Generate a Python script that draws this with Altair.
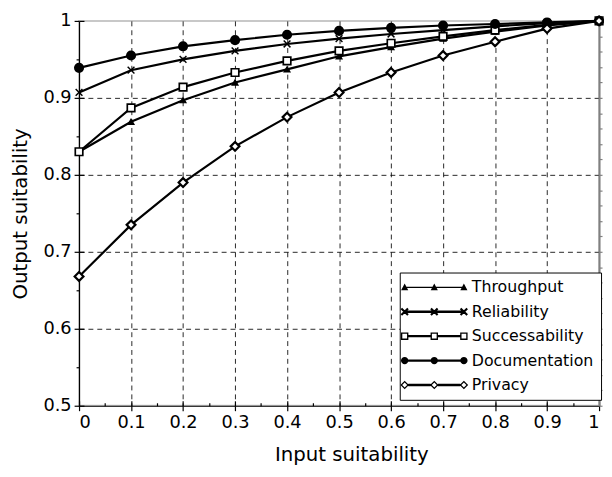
import altair as alt
import pandas as pd

# ---------------- data ----------------
series = ["Throughput", "Reliability", "Successability", "Documentation", "Privacy"]
x_vals = [0.0, 0.1, 0.2, 0.3, 0.4, 0.5, 0.6, 0.7, 0.8, 0.9, 1.0]
throughput = [0.830, 0.869, 0.897, 0.920, 0.937, 0.954, 0.966, 0.977, 0.986, 0.994, 1.0]
reliability = [0.907, 0.936, 0.950, 0.961, 0.970, 0.977, 0.983, 0.988, 0.993, 0.997, 1.0]
successability = [0.830, 0.887, 0.914, 0.933, 0.948, 0.961, 0.971, 0.980, 0.988, 0.995, 1.0]
documentation = [0.939, 0.955, 0.967, 0.975, 0.982, 0.987, 0.991, 0.994, 0.996, 0.998, 1.0]
privacy = [0.668, 0.735, 0.790, 0.837, 0.875, 0.907, 0.933, 0.955, 0.973, 0.990, 1.0]

x_ticks = [0.0, 0.1, 0.2, 0.3, 0.4, 0.5, 0.6, 0.7, 0.8, 0.9, 1.0]
y_ticks = [0.5, 0.6, 0.7, 0.8, 0.9, 1.0]
x_grid = [0.1, 0.2, 0.3, 0.4, 0.5, 0.6, 0.7, 0.8, 0.9]
y_grid = [0.6, 0.7, 0.8, 0.9]
x_minor = [0.05, 0.15, 0.25, 0.35, 0.45, 0.55, 0.65, 0.75, 0.85, 0.95]
y_minor = [0.55, 0.65, 0.75, 0.85, 0.95]
y_right = [round(0.5 + 0.02 * i, 2) for i in range(26)]

values = [throughput, reliability, successability, documentation, privacy]
rows = []
for s, vals in zip(series, values):
    for xv, yv in zip(x_vals, vals):
        rows.append({"series": s, "lg": s, "x": xv, "y": yv})
df = pd.DataFrame(rows)

# ---------------- legend symbol paths (line + 3 markers) ----------------
def f(v):
    return f"{v:.3f}"

CS = [-4, 0, 4]

def seg_rects(t, g):
    out = ""
    for a, b in zip(CS[:-1], CS[1:]):
        x1, x2 = a + g, b - g
        out += f"M{f(x1)},{f(-t)}H{f(x2)}V{f(t)}H{f(x1)}Z"
    return out

def tri(c):
    w, top, bot = 0.48, -0.52, 0.38
    return f"M{f(c-w)},{f(bot)}L{f(c)},{f(top)}L{f(c+w)},{f(bot)}Z"

def xmark(c):
    a, d = 0.45, 0.1
    r1 = f"M{f(c-a+d)},{f(-a-d)}L{f(c+a+d)},{f(a-d)}L{f(c+a-d)},{f(a+d)}L{f(c-a-d)},{f(-a+d)}Z"
    r2 = f"M{f(c-a-d)},{f(a-d)}L{f(c+a-d)},{f(-a-d)}L{f(c+a+d)},{f(-a+d)}L{f(c-a+d)},{f(a+d)}Z"
    return r1 + r2

def sq(c):
    h, hi = 0.5, 0.32
    o = f"M{f(c-h)},{f(-h)}H{f(c+h)}V{f(h)}H{f(c-h)}Z"
    i = f"M{f(c-hi)},{f(-hi)}V{f(hi)}H{f(c+hi)}V{f(-hi)}Z"
    return o + i

def circ(c):
    r = 0.5
    return f"M{f(c-r)},0A{r},{r} 0 1,1 {f(c+r)},0A{r},{r} 0 1,1 {f(c-r)},0Z"

def dia(c):
    h, hi = 0.58, 0.34
    o = f"M{f(c)},{f(-h)}L{f(c+h)},0L{f(c)},{f(h)}L{f(c-h)},0Z"
    i = f"M{f(c)},{f(-hi)}L{f(c-hi)},0L{f(c)},{f(hi)}L{f(c+hi)},0Z"
    return o + i

legend_paths = [
    seg_rects(0.08, 0) + "".join(tri(c) for c in CS),
    seg_rects(0.16, 0) + "".join(xmark(c) for c in CS),
    seg_rects(0.16, 0.45) + "".join(sq(c) for c in CS),
    seg_rects(0.16, 0) + "".join(circ(c) for c in CS),
    seg_rects(0.16, 0.5) + "".join(dia(c) for c in CS),
]

# ---------------- chart ----------------
FONT = "DejaVu Sans"
xscale = alt.Scale(domain=[0, 1], nice=False, zero=False)
yscale = alt.Scale(domain=[0.5, 1], nice=False, zero=False)

def blank_axis(orient, vals, **kw):
    base = dict(orient=orient, values=vals, labels=False, domain=False, ticks=False,
                grid=False, title=None)
    base.update(kw)
    return alt.Axis(**base)

base = alt.Chart(df)

grid_layer = base.mark_line(opacity=0).encode(
    x=alt.X("x:Q", scale=xscale, axis=blank_axis("bottom", x_grid, grid=True)),
    y=alt.Y("y:Q", scale=yscale, axis=blank_axis("left", y_grid, grid=True)),
    detail="series:N",
)

main_layer = base.mark_line(opacity=0).encode(
    x=alt.X("x:Q", scale=xscale, axis=alt.Axis(
        orient="bottom", values=x_ticks, format=".1~f", grid=False, title="Input suitability",
        tickSize=5, labelPadding=3, titlePadding=14, titleX=276, titleAlign="center")),
    y=alt.Y("y:Q", scale=yscale, axis=alt.Axis(
        orient="left", values=y_ticks, format=".1~f", grid=False, title="Output suitability",
        tickSize=5, labelPadding=3, titlePadding=13)),
    detail="series:N",
)

inner_layer = base.mark_line(opacity=0).encode(
    x=alt.X("x:Q", scale=xscale, axis=blank_axis("bottom", x_ticks, ticks=True, tickSize=5, offset=-5)),
    y=alt.Y("y:Q", scale=yscale, axis=blank_axis("left", y_ticks, ticks=True, tickSize=5, offset=-5)),
    detail="series:N",
)

minor_layer = base.mark_line(opacity=0).encode(
    x=alt.X("x:Q", scale=xscale, axis=blank_axis("bottom", x_minor, ticks=True, tickSize=3, offset=-3)),
    y=alt.Y("y:Q", scale=yscale, axis=blank_axis("left", y_minor, ticks=True, tickSize=3)),
    detail="series:N",
)

right_layer = base.mark_line(opacity=0).encode(
    x=alt.X("x:Q", scale=xscale, axis=None),
    y=alt.Y("y:Q", scale=yscale, axis=blank_axis("right", y_right, domain=True, domainColor="#808080",
                                                 domainWidth=2, ticks=True, tickSize=3,
                                                 tickColor="#808080")),
    detail="series:N",
)

lines = base.mark_line(color="black", strokeWidth=2.2).encode(
    x=alt.X("x:Q", scale=xscale, axis=None),
    y=alt.Y("y:Q", scale=yscale, axis=None),
    detail="series:N",
)

x_path = "M-1,-1L1,1M-1,1L1,-1"
points = base.mark_point(filled=True, stroke="black", opacity=1).encode(
    x=alt.X("x:Q", scale=xscale, axis=None),
    y=alt.Y("y:Q", scale=yscale, axis=None),
    shape=alt.Shape("series:N", scale=alt.Scale(domain=series,
                    range=["triangle-up", x_path, "square", "circle", "diamond"]), legend=None),
    fill=alt.Fill("series:N", scale=alt.Scale(domain=series,
                  range=["black", "black", "white", "black", "white"]), legend=None),
    size=alt.Size("series:N", scale=alt.Scale(domain=series, range=[36, 80, 42, 42, 46]), legend=None),
    strokeWidth=alt.StrokeWidth("series:N", scale=alt.Scale(domain=series,
                                range=[1.2, 2.2, 1.6, 1.2, 1.6]), legend=None),
)

legend_layer = base.transform_filter("false").mark_point(filled=True, color="black", opacity=1).encode(
    shape=alt.Shape("lg:N", scale=alt.Scale(domain=series, range=legend_paths),
                    legend=alt.Legend(
                        title=None, orient="none", legendX=325, legendY=255, direction="vertical",
                        symbolSize=225, symbolOffset=20, labelOffset=30, symbolStrokeWidth=0,
                        symbolFillColor="black", symbolOpacity=1,
                        labelFont=FONT, labelFontSize=16, labelColor="black", labelLimit=0,
                        rowPadding=8.75, padding=7, strokeColor="black", fillColor="white",
                        cornerRadius=0)),
)

chart = alt.layer(
    grid_layer, main_layer, inner_layer, minor_layer, right_layer, lines, points, legend_layer
).resolve_scale(
    shape="independent"
).resolve_axis(
    x="independent", y="independent"
).properties(
    width=527, height=390,
    padding={"left": 72, "top": 10, "right": 5, "bottom": 59},
    autosize=alt.AutoSizeParams(type="none"),
).configure_view(
    stroke="#c8c8c8", strokeWidth=2
).configure_axis(
    labelFont=FONT, labelFontSize=18, labelColor="black",
    titleFont=FONT, titleFontSize=20, titleFontWeight="normal", titleColor="black",
    domainColor="black", domainWidth=1.2, tickColor="black", tickWidth=1.2,
    gridColor="black", gridDash=[5, 4], gridWidth=1, gridOpacity=0.85,
)

chart.save("out.html", embed_options={"renderer": "svg", "actions": False})
